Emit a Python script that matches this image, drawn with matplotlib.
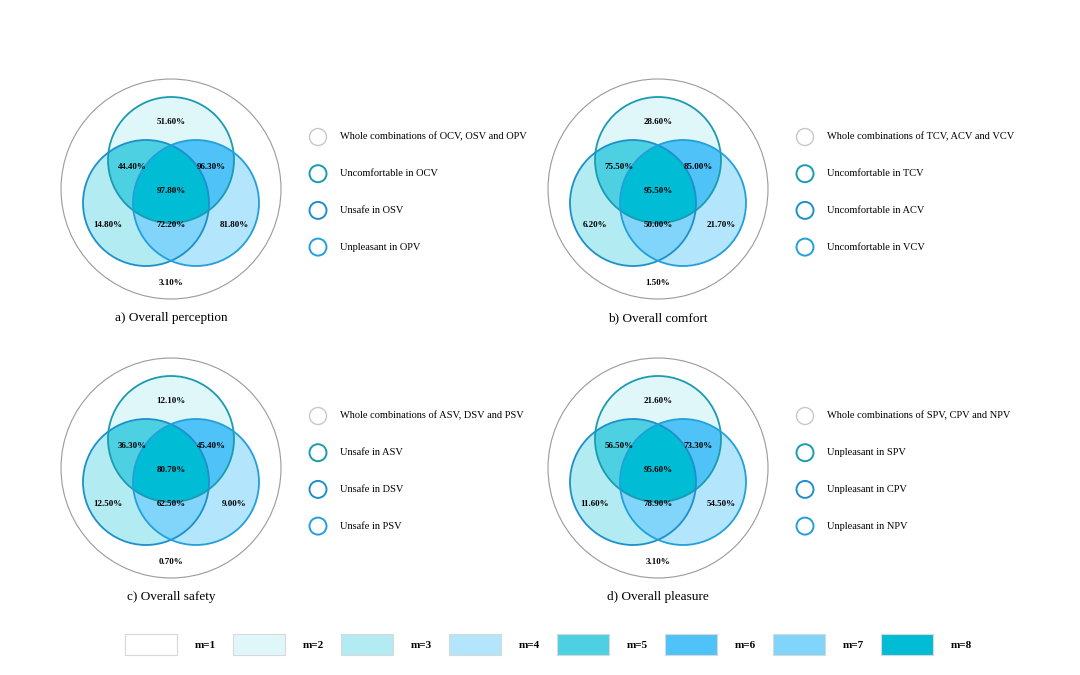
import numpy as np
import matplotlib.pyplot as plt
from matplotlib.patches import Circle, Polygon, Rectangle

# region values, order: top, top-left, top-right, centre, left, bottom, right, outside
vals_a = [51.60, 44.40, 96.30, 97.80, 14.80, 72.20, 81.80, 3.10]
vals_b = [28.60, 75.50, 85.00, 95.50, 6.20, 50.00, 21.70, 1.50]
vals_c = [12.10, 36.30, 45.40, 80.70, 12.50, 62.50, 9.00, 0.70]
vals_d = [21.60, 56.50, 73.30, 95.60, 11.60, 78.90, 54.50, 3.10]

titles = ['a) Overall perception', 'b) Overall comfort', 'c) Overall safety', 'd) Overall pleasure']

legend_a = ['Whole combinations of OCV, OSV and OPV', 'Uncomfortable in OCV', 'Unsafe in OSV', 'Unpleasant in OPV']
legend_b = ['Whole combinations of TCV, ACV and VCV', 'Uncomfortable in TCV', 'Uncomfortable in ACV', 'Uncomfortable in VCV']
legend_c = ['Whole combinations of ASV, DSV and PSV', 'Unsafe in ASV', 'Unsafe in DSV', 'Unsafe in PSV']
legend_d = ['Whole combinations of SPV, CPV and NPV', 'Unpleasant in SPV', 'Unpleasant in CPV', 'Unpleasant in NPV']

m_labels = ['m=1', 'm=2', 'm=3', 'm=4', 'm=5', 'm=6', 'm=7', 'm=8']
m_colors = ['#ffffff', '#e0f7fa', '#b2ebf2', '#b3e5fc', '#4dd0e1', '#4fc3f7', '#81d4fa', '#00bcd4']

edge_cols = ['#1a9bb0', '#1f8fcb', '#239fdc']  # top, left, right circles
outer_edge = '#9a9a9a'

plt.rcParams['font.family'] = ['Liberation Serif', 'DejaVu Serif']

W, H = 1080, 675
fig = plt.figure(figsize=(W / 100, H / 100), dpi=100)
ax = fig.add_axes([0, 0, 1, 1])
ax.set_xlim(0, W)
ax.set_ylim(H, 0)
ax.set_aspect('equal')
ax.axis('off')

R_OUT = 110
R = 63
offs = [(0, -29), (-25, 14), (25, 14)]  # top, left, right


def intersect_poly(circles, n=720):
    # intersection of circles is convex -> sample boundaries, keep inside points, sort by angle
    pts = []
    for (x0, y0) in circles:
        t = np.linspace(0, 2 * np.pi, n, endpoint=False)
        px = x0 + R * np.cos(t)
        py = y0 + R * np.sin(t)
        ok = np.ones(n, bool)
        for (x1, y1) in circles:
            ok &= (px - x1) ** 2 + (py - y1) ** 2 <= R ** 2 + 1e-6 + 2 * R * 0.01
        pts.append(np.column_stack([px[ok], py[ok]]))
    pts = np.vstack(pts)
    c = pts.mean(axis=0)
    ang = np.arctan2(pts[:, 1] - c[1], pts[:, 0] - c[0])
    return pts[np.argsort(ang)]


def venn(cx, cy, vals, title, legend):
    ax.add_patch(Circle((cx, cy), R_OUT, facecolor='white', edgecolor=outer_edge, lw=0.8, zorder=1))
    cs = [(cx + dx, cy + dy) for dx, dy in offs]
    # single regions
    for i, col in zip(range(3), [m_colors[1], m_colors[2], m_colors[3]]):
        ax.add_patch(Circle(cs[i], R, facecolor=col, edgecolor='none', zorder=2))
    # pairs: top-left, top-right, left-right
    for pair, col in zip([(0, 1), (0, 2), (1, 2)], [m_colors[4], m_colors[5], m_colors[6]]):
        ax.add_patch(Polygon(intersect_poly([cs[pair[0]], cs[pair[1]]]), closed=True,
                             facecolor=col, edgecolor='none', zorder=3))
    ax.add_patch(Polygon(intersect_poly(cs), closed=True, facecolor=m_colors[7], edgecolor='none', zorder=4))
    for i in range(3):
        ax.add_patch(Circle(cs[i], R, facecolor='none', edgecolor=edge_cols[i], lw=1.3, zorder=5))

    pos = [(0, -67), (-39, -22), (40, -22), (0, 2), (-63, 36), (0, 36), (63, 36), (0, 94)]
    for (dx, dy), v in zip(pos, vals):
        ax.text(cx + dx, cy + dy, f'{v:.2f}%', ha='center', va='center', fontsize=6.5,
                fontweight='bold', zorder=6)
    ax.text(cx, cy + 129, title, ha='center', va='center', fontsize=9.5)

    # side legend
    lcols = [outer_edge, edge_cols[0], edge_cols[1], edge_cols[2]]
    for i, (lab, col) in enumerate(zip(legend, lcols)):
        ly = cy - 52 + 36.7 * i
        lw = 1.0 if i == 0 else 1.4
        ax.add_patch(Circle((cx + 147, ly), 8.5, facecolor='white',
                            edgecolor='#c8c8c8' if i == 0 else col, lw=lw))
        ax.text(cx + 169, ly, lab, ha='left', va='center', fontsize=7.5)


centres = [(171, 189), (658, 189), (171, 468), (658, 468)]
for (cx, cy), vals, title, leg in zip(centres, [vals_a, vals_b, vals_c, vals_d], titles,
                                      [legend_a, legend_b, legend_c, legend_d]):
    venn(cx, cy, vals, title, leg)

# bottom colour legend
for i, (lab, col) in enumerate(zip(m_labels, m_colors)):
    x0 = 125 + 108 * i
    ax.add_patch(Rectangle((x0, 634), 52, 21, facecolor=col, edgecolor='#d8d8d8', lw=0.8))
    ax.text(x0 + 80, 645, lab, ha='center', va='center', fontsize=8, fontweight='bold')

fig.savefig('out.png', dpi=100)
